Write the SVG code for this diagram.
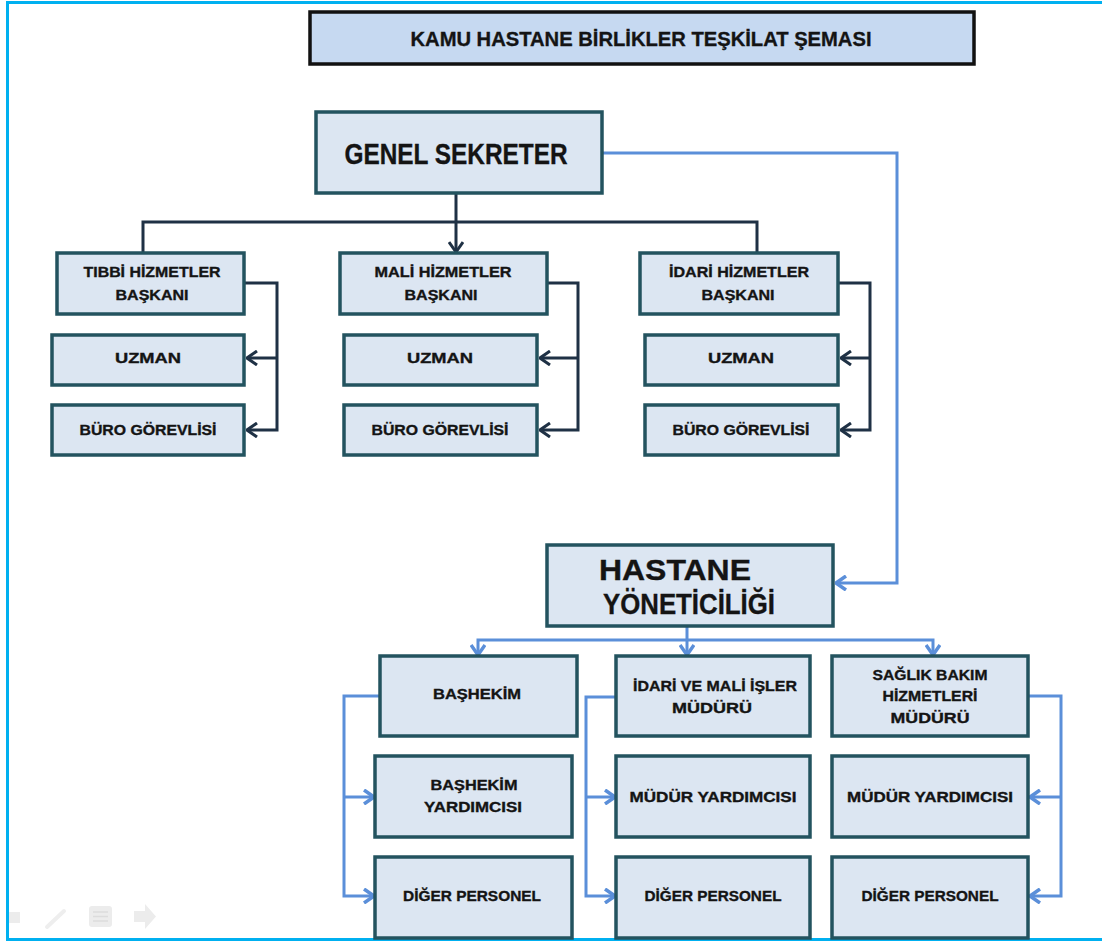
<svg xmlns="http://www.w3.org/2000/svg" width="1102" height="943" viewBox="0 0 1102 943">
<style>
.box{fill:#dce6f2;stroke:#23535f;stroke-width:3.5}
.title{fill:#c6d9f1;stroke:#111;stroke-width:3.5}
.t{font-family:"Liberation Sans",Arial,sans-serif;font-weight:bold;fill:#141414;stroke:#141414;stroke-width:0.35;text-anchor:middle}
.s{font-size:15px}
.big{font-size:29px}
.dk{fill:none;stroke:#1f3145;stroke-width:3}
.bl{fill:none;stroke:#5b8fd9;stroke-width:3}
.ic{fill:#ececec;stroke:none}
</style>
<defs>
<marker id="ad" viewBox="0 0 12 16" refX="11" refY="8" markerWidth="12" markerHeight="16" markerUnits="userSpaceOnUse" orient="auto">
<path d="M1,1 L11,8 L1,15" fill="none" stroke="#1f3145" stroke-width="3"/>
</marker>
<marker id="ab" viewBox="0 0 12 16" refX="11" refY="8" markerWidth="12" markerHeight="16" markerUnits="userSpaceOnUse" orient="auto">
<path d="M1,1 L11,8 L1,15" fill="none" stroke="#5b8fd9" stroke-width="3.5"/>
</marker>
</defs>
<rect x="0" y="0" width="1102" height="943" fill="#fff"/>
<path d="M1102,2.5 H7.5 V939.5 H1102" fill="none" stroke="#00b0f0" stroke-width="3"/>

<g id="slide-controls">
<path class="ic" d="M9,912 H20 V923 H9 Z"/>
<path d="M47,927 L64,911" stroke="#eeeeee" stroke-width="4" stroke-linecap="round"/>
<rect class="ic" x="89" y="906" width="23" height="21" rx="3"/>
<path d="M93,912 H108 M93,916.5 H108 M93,921 H108" stroke="#dcdcdc" stroke-width="1.5"/>
<path class="ic" d="M134,911 H145 V904 L156,916.5 L145,929 V922 H134 Z"/>
</g>

<g id="connectors">
<path class="dk" d="M456,193 V252" marker-end="url(#ad)"/>
<path class="dk" d="M143,253 V222 H757 V253"/>
<path class="dk" d="M244,283 H277 V430 H247" marker-end="url(#ad)"/>
<path class="dk" d="M277,358 H247" marker-end="url(#ad)"/>
<path class="dk" d="M547,283 H578 V430 H540" marker-end="url(#ad)"/>
<path class="dk" d="M578,358 H540" marker-end="url(#ad)"/>
<path class="dk" d="M838,283 H870 V430 H841" marker-end="url(#ad)"/>
<path class="dk" d="M870,358 H841" marker-end="url(#ad)"/>

<path class="bl" d="M602,153 H897 V583 H836" marker-end="url(#ab)"/>
<path class="bl" d="M687,626 V655" marker-end="url(#ab)"/>
<path class="bl" d="M687,640 H478 V655" marker-end="url(#ab)"/>
<path class="bl" d="M687,640 H933 V655" marker-end="url(#ab)"/>
<path class="bl" d="M380,696 H344 V896 H374" marker-end="url(#ab)"/>
<path class="bl" d="M344,797 H374" marker-end="url(#ab)"/>
<path class="bl" d="M616,697 H586 V896 H615" marker-end="url(#ab)"/>
<path class="bl" d="M586,797 H615" marker-end="url(#ab)"/>
<path class="bl" d="M1028,696 H1061 V896 H1030" marker-end="url(#ab)"/>
<path class="bl" d="M1061,797 H1030" marker-end="url(#ab)"/>
</g>

<g id="title">
<rect class="title" x="310" y="12" width="664" height="52"/>
<text class="t" x="641" y="46" font-size="21" textLength="461" lengthAdjust="spacingAndGlyphs">KAMU HASTANE BİRLİKLER TEŞKİLAT ŞEMASI</text>
</g>

<g id="genel-sekreter">
<rect class="box" x="316" y="112" width="286" height="81"/>
<text class="t big" x="456" y="164" textLength="223" lengthAdjust="spacingAndGlyphs">GENEL SEKRETER</text>
</g>

<g id="tibbi">
<rect class="box" x="57" y="253" width="187" height="61"/>
<text class="t s" x="152" y="277" textLength="137" lengthAdjust="spacingAndGlyphs">TIBBİ HİZMETLER</text>
<text class="t s" x="152" y="300" textLength="73" lengthAdjust="spacingAndGlyphs">BAŞKANI</text>
</g>
<g id="mali">
<rect class="box" x="340" y="253" width="207" height="61"/>
<text class="t s" x="443" y="277" textLength="137" lengthAdjust="spacingAndGlyphs">MALİ HİZMETLER</text>
<text class="t s" x="441" y="300" textLength="73" lengthAdjust="spacingAndGlyphs">BAŞKANI</text>
</g>
<g id="idari">
<rect class="box" x="640" y="253" width="198" height="61"/>
<text class="t s" x="739" y="277" textLength="140" lengthAdjust="spacingAndGlyphs">İDARİ HİZMETLER</text>
<text class="t s" x="738" y="300" textLength="73" lengthAdjust="spacingAndGlyphs">BAŞKANI</text>
</g>

<g id="uzman-1">
<rect class="box" x="52" y="335" width="192" height="50"/>
<text class="t s" x="148" y="363" textLength="66" lengthAdjust="spacingAndGlyphs">UZMAN</text>
</g>
<g id="uzman-2">
<rect class="box" x="344" y="335" width="193" height="50"/>
<text class="t s" x="440" y="363" textLength="66" lengthAdjust="spacingAndGlyphs">UZMAN</text>
</g>
<g id="uzman-3">
<rect class="box" x="645" y="335" width="193" height="50"/>
<text class="t s" x="741" y="363" textLength="66" lengthAdjust="spacingAndGlyphs">UZMAN</text>
</g>

<g id="buro-1">
<rect class="box" x="52" y="405" width="192" height="50"/>
<text class="t s" x="148" y="435" textLength="137" lengthAdjust="spacingAndGlyphs">BÜRO GÖREVLİSİ</text>
</g>
<g id="buro-2">
<rect class="box" x="344" y="405" width="193" height="50"/>
<text class="t s" x="440" y="435" textLength="137" lengthAdjust="spacingAndGlyphs">BÜRO GÖREVLİSİ</text>
</g>
<g id="buro-3">
<rect class="box" x="645" y="405" width="193" height="50"/>
<text class="t s" x="741" y="435" textLength="137" lengthAdjust="spacingAndGlyphs">BÜRO GÖREVLİSİ</text>
</g>

<g id="hastane-yoneticiligi">
<rect class="box" x="547" y="545" width="286" height="81"/>
<text class="t big" x="675" y="580" textLength="152" lengthAdjust="spacingAndGlyphs">HASTANE</text>
<text class="t big" x="689" y="614" textLength="172" lengthAdjust="spacingAndGlyphs">YÖNETİCİLİĞİ</text>
</g>

<g id="bashekim">
<rect class="box" x="380" y="656" width="197" height="80"/>
<text class="t s" x="477" y="699" textLength="88" lengthAdjust="spacingAndGlyphs">BAŞHEKİM</text>
</g>
<g id="idari-mali">
<rect class="box" x="616" y="656" width="194" height="80"/>
<text class="t s" x="715" y="691" textLength="164" lengthAdjust="spacingAndGlyphs">İDARİ VE MALİ İŞLER</text>
<text class="t s" x="712" y="713" textLength="80" lengthAdjust="spacingAndGlyphs">MÜDÜRÜ</text>
</g>
<g id="saglik">
<rect class="box" x="832" y="656" width="196" height="80"/>
<text class="t s" x="930" y="680" textLength="115" lengthAdjust="spacingAndGlyphs">SAĞLIK BAKIM</text>
<text class="t s" x="930" y="701" textLength="95" lengthAdjust="spacingAndGlyphs">HİZMETLERİ</text>
<text class="t s" x="930" y="723" textLength="79" lengthAdjust="spacingAndGlyphs">MÜDÜRÜ</text>
</g>

<g id="bashekim-yardimcisi">
<rect class="box" x="375" y="756" width="197" height="81"/>
<text class="t s" x="474" y="790" textLength="87" lengthAdjust="spacingAndGlyphs">BAŞHEKİM</text>
<text class="t s" x="473" y="812" textLength="98" lengthAdjust="spacingAndGlyphs">YARDIMCISI</text>
</g>
<g id="mudur-yardimcisi-1">
<rect class="box" x="616" y="756" width="194" height="81"/>
<text class="t s" x="713" y="802" textLength="167" lengthAdjust="spacingAndGlyphs">MÜDÜR YARDIMCISI</text>
</g>
<g id="mudur-yardimcisi-2">
<rect class="box" x="832" y="756" width="196" height="81"/>
<text class="t s" x="930" y="802" textLength="166" lengthAdjust="spacingAndGlyphs">MÜDÜR YARDIMCISI</text>
</g>

<g id="diger-personel-1">
<rect class="box" x="375" y="857" width="197" height="81"/>
<text class="t s" x="472" y="901" textLength="138" lengthAdjust="spacingAndGlyphs">DİĞER PERSONEL</text>
</g>
<g id="diger-personel-2">
<rect class="box" x="616" y="857" width="194" height="81"/>
<text class="t s" x="713" y="901" textLength="137" lengthAdjust="spacingAndGlyphs">DİĞER PERSONEL</text>
</g>
<g id="diger-personel-3">
<rect class="box" x="832" y="857" width="196" height="81"/>
<text class="t s" x="930" y="901" textLength="137" lengthAdjust="spacingAndGlyphs">DİĞER PERSONEL</text>
</g>
</svg>
